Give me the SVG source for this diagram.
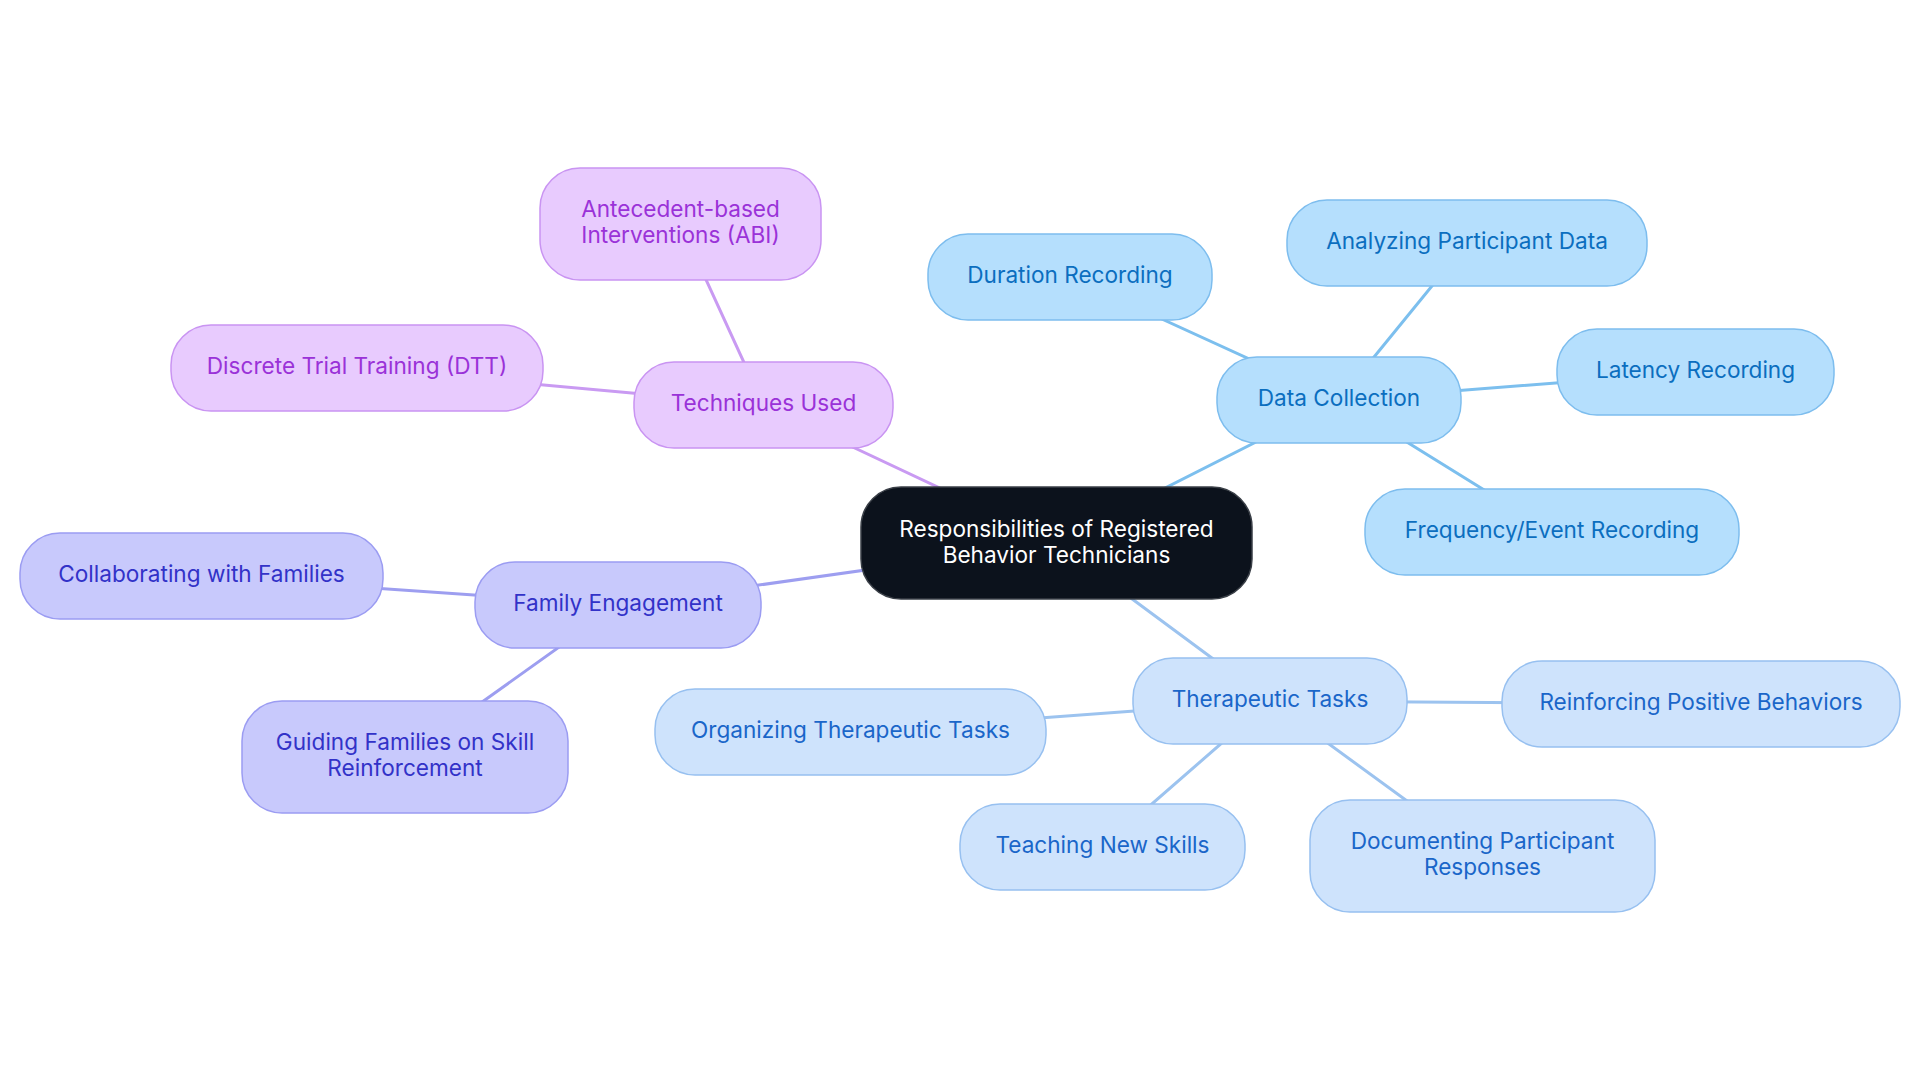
<svg xmlns="http://www.w3.org/2000/svg" width="1920" height="1083" viewBox="0 0 1920 1083">
<style>
text{font-family:Inter,"Noto Sans","Liberation Sans",sans-serif;font-size:22.6px;text-anchor:middle}
.e{stroke-width:3;fill:none;stroke-linecap:round}
.ep{stroke:#c99af2}.ei{stroke:#9d9ef0}.eb{stroke:#7cbfee}.el{stroke:#9cc3ef}
.root rect{fill:#0c121c;stroke:#3a3f47;stroke-width:1.5}
.root text{fill:#ffffff}
.p rect{fill:#e8cbfe;stroke:#c994f2;stroke-width:1.5}
.p text{fill:#9a32d8}
.i rect{fill:#c8c9fc;stroke:#9b9cf2;stroke-width:1.5}
.i text{fill:#3232c8}
.b rect{fill:#b5dffd;stroke:#7dbdee;stroke-width:1.5}
.b text{fill:#0b6ebf}
.l rect{fill:#cee3fc;stroke:#97c0f0;stroke-width:1.5}
.l text{fill:#1a66c9}
</style>
<rect width="1920" height="1083" fill="#ffffff"/>
<g id="connectors">
<line class="e ep" x1="1056.5" y1="543" x2="763.5" y2="405"/>
<line class="e ep" x1="763.5" y1="405" x2="680.5" y2="224"/>
<line class="e ep" x1="763.5" y1="405" x2="357" y2="368"/>
<line class="e ei" x1="1056.5" y1="543" x2="618" y2="605"/>
<line class="e ei" x1="618" y1="605" x2="201.5" y2="576"/>
<line class="e ei" x1="618" y1="605" x2="405" y2="757"/>
<line class="e eb" x1="1056.5" y1="543" x2="1339" y2="400"/>
<line class="e eb" x1="1339" y1="400" x2="1070" y2="277"/>
<line class="e eb" x1="1339" y1="400" x2="1467" y2="243"/>
<line class="e eb" x1="1339" y1="400" x2="1695.5" y2="372"/>
<line class="e eb" x1="1339" y1="400" x2="1552" y2="532"/>
<line class="e el" x1="1056.5" y1="543" x2="1270" y2="701"/>
<line class="e el" x1="1270" y1="701" x2="850.5" y2="732"/>
<line class="e el" x1="1270" y1="701" x2="1701" y2="704"/>
<line class="e el" x1="1270" y1="701" x2="1102.5" y2="847"/>
<line class="e el" x1="1270" y1="701" x2="1482.5" y2="856"/>
</g>
<g id="root" class="root"><rect x="861" y="487" width="391" height="112" rx="40"/><text x="1056.5" y="537">Responsibilities of Registered</text><text x="1056.5" y="563">Behavior Technicians</text></g>
<g id="techniques" class="p"><rect x="634" y="362" width="259" height="86" rx="40"/><text x="763.5" y="411">Techniques Used</text></g>
<g id="abi" class="p"><rect x="540" y="168" width="281" height="112" rx="40"/><text x="680.5" y="217">Antecedent-based</text><text x="680.5" y="243">Interventions (ABI)</text></g>
<g id="dtt" class="p"><rect x="171" y="325" width="372" height="86" rx="40"/><text x="357" y="374">Discrete Trial Training (DTT)</text></g>
<g id="family" class="i"><rect x="475" y="562" width="286" height="86" rx="40"/><text x="618" y="611">Family Engagement</text></g>
<g id="collab" class="i"><rect x="20" y="533" width="363" height="86" rx="40"/><text x="201.5" y="582">Collaborating with Families</text></g>
<g id="guiding" class="i"><rect x="242" y="701" width="326" height="112" rx="40"/><text x="405" y="750">Guiding Families on Skill</text><text x="405" y="776">Reinforcement</text></g>
<g id="data" class="b"><rect x="1217" y="357" width="244" height="86" rx="40"/><text x="1339" y="406">Data Collection</text></g>
<g id="duration" class="b"><rect x="928" y="234" width="284" height="86" rx="40"/><text x="1070" y="283">Duration Recording</text></g>
<g id="analyzing" class="b"><rect x="1287" y="200" width="360" height="86" rx="40"/><text x="1467" y="249">Analyzing Participant Data</text></g>
<g id="latency" class="b"><rect x="1557" y="329" width="277" height="86" rx="40"/><text x="1695.5" y="378">Latency Recording</text></g>
<g id="frequency" class="b"><rect x="1365" y="489" width="374" height="86" rx="40"/><text x="1552" y="538">Frequency/Event Recording</text></g>
<g id="therapeutic" class="l"><rect x="1133" y="658" width="274" height="86" rx="40"/><text x="1270" y="707">Therapeutic Tasks</text></g>
<g id="organizing" class="l"><rect x="655" y="689" width="391" height="86" rx="40"/><text x="850.5" y="738">Organizing Therapeutic Tasks</text></g>
<g id="reinforcing" class="l"><rect x="1502" y="661" width="398" height="86" rx="40"/><text x="1701" y="710">Reinforcing Positive Behaviors</text></g>
<g id="teaching" class="l"><rect x="960" y="804" width="285" height="86" rx="40"/><text x="1102.5" y="853">Teaching New Skills</text></g>
<g id="documenting" class="l"><rect x="1310" y="800" width="345" height="112" rx="40"/><text x="1482.5" y="849">Documenting Participant</text><text x="1482.5" y="875">Responses</text></g>
</svg>
